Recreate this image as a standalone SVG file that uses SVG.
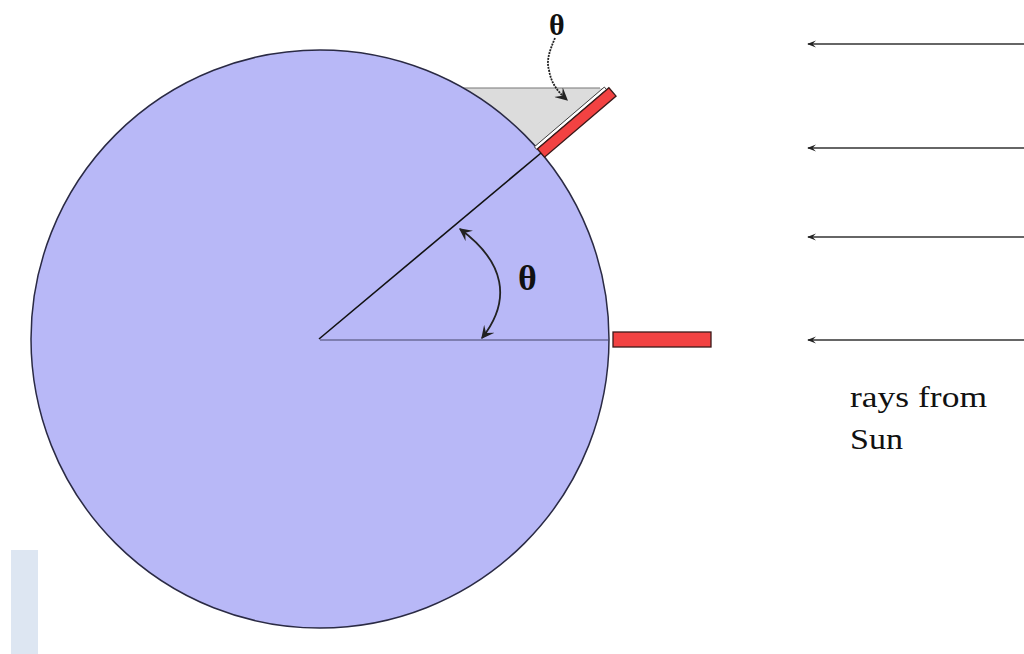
<svg xmlns="http://www.w3.org/2000/svg" width="1024" height="654" viewBox="0 0 1024 654">
<style>
.txt{font-family:"Liberation Serif","Times New Roman",serif;fill:#111}
.ray{stroke:#333;stroke-width:1.5;fill:none}
.red{fill:#f24242;stroke:#3a1a1a;stroke-width:1.3}
.thin{stroke:#222;stroke-width:1.8;fill:none}
</style>
<defs>
<marker id="ah" viewBox="0 0 10 10" refX="9" refY="5" markerWidth="9" markerHeight="9" markerUnits="userSpaceOnUse" orient="auto">
<path d="M0,1 L10,5 L0,9 L4,5 Z" fill="#222"/>
</marker>
<marker id="ah2" viewBox="0 0 10 10" refX="9" refY="5" markerWidth="13" markerHeight="13" markerUnits="userSpaceOnUse" orient="auto-start-reverse">
<path d="M0,0 L10,5 L0,10 L4,5 Z" fill="#222"/>
</marker>
</defs>
<rect width="1024" height="654" fill="#fff"/>
<rect x="11" y="550" width="27" height="104" fill="#dde6f2"/>
<g id="shadow">
<polygon points="450,88 606,88 541,152 520,152" fill="#dcdcdc"/>
<line x1="462" y1="88" x2="600" y2="88" stroke="#777" stroke-width="1.2"/>
</g>
<g id="earth">
<circle cx="320" cy="339" r="289" fill="#b8b8f7" stroke="#2a2a44" stroke-width="1.5"/>
</g>
<g id="panel-top" transform="translate(541,153) rotate(-40.5)">
<rect x="-1" y="-9" width="92" height="3.5" fill="#fff" stroke="#222" stroke-width="0.8"/>
<rect class="red" x="0" y="-5.5" width="94" height="11"/>
</g>
<g id="panel-right">
<rect class="red" x="613" y="332" width="98" height="15"/>
</g>
<g id="connectors">
<line x1="320" y1="340" x2="609" y2="340" stroke="#44446a" stroke-width="1.2"/>
<line x1="319" y1="339" x2="541" y2="153" stroke="#111" stroke-width="1.6"/>
<path class="thin" d="M460,229 C505,262 512,300 482,338" marker-start="url(#ah2)" marker-end="url(#ah2)"/>
<path class="thin" stroke-width="1.3" stroke-dasharray="2 1" d="M555,38 C550,50 546,60 549,70 C551,82 556,90 567,100" marker-end="url(#ah2)"/>
<line class="ray" x1="1024" y1="44" x2="808" y2="44" marker-end="url(#ah)"/>
<line class="ray" x1="1024" y1="148" x2="808" y2="148" marker-end="url(#ah)"/>
<line class="ray" x1="1024" y1="237" x2="808" y2="237" marker-end="url(#ah)"/>
<line class="ray" x1="1024" y1="340" x2="808" y2="340" stroke="#666" stroke-width="1.2" marker-end="url(#ah)"/>
</g>
<g id="labels" font-family="Liberation Serif, Times New Roman, serif">
<text class="txt" x="549" y="35" font-size="30" font-weight="bold">θ</text>
<text class="txt" x="518" y="290" font-size="36" font-weight="bold">θ</text>
<text class="txt" x="850" y="407" font-size="29" textLength="137" lengthAdjust="spacingAndGlyphs">rays from</text>
<text class="txt" x="850" y="449" font-size="29" textLength="53" lengthAdjust="spacingAndGlyphs">Sun</text>
</g>
</svg>
